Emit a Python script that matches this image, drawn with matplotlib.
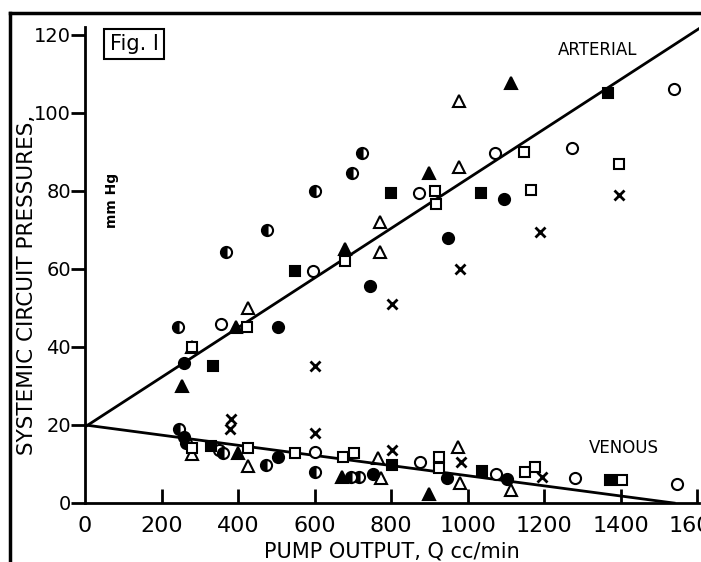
import matplotlib
matplotlib.use("Agg")
import matplotlib.pyplot as plt
from matplotlib.lines import Line2D
import numpy as np

# pump output Q (cc/min) and pressure (mm Hg) per symbol, arterial + venous
open_circle_q = [355, 597, 874, 1071, 1274, 1540, 350, 600, 876, 1074, 1281, 1548]
open_circle_p = [46, 59.5, 79.5, 89.7, 91, 106, 13.6, 13, 10.5, 7.4, 6.4, 4.9]

half_circle_q = [242, 368, 476, 600, 697, 724, 245, 265, 360, 474, 600, 695, 716]
half_circle_p = [45, 64.4, 70, 80, 84.6, 89.7, 19, 15.5, 12.8, 9.7, 8, 6.7, 6.7]

filled_circle_q = [260, 505, 745, 950, 1095, 260, 505, 752, 945, 1103]
filled_circle_p = [36, 45, 55.5, 68, 78, 17, 11.8, 7.4, 6.4, 6.2]

filled_tri_q = [253, 395, 680, 900, 1113, 400, 671, 900]
filled_tri_p = [30, 45, 65, 84.6, 107.7, 12.8, 6.7, 2.3]

open_tri_q = [280, 426, 770, 770, 977, 977, 280, 426, 766, 774, 976, 981, 1113]
open_tri_p = [40, 50, 64.4, 72, 86, 103, 12.5, 9.5, 11.5, 6.4, 14.4, 5.1, 3.3]

open_sq_q = [280, 424, 680, 916, 918, 1147, 1166, 1395,
             281, 426, 548, 674, 703, 926, 926, 1150, 1177, 1403]
open_sq_p = [40, 45, 62, 80, 76.7, 90, 80.3, 87,
             14, 14, 12.8, 11.8, 12.8, 11.8, 9, 8, 9.2, 5.9]

filled_sq_q = [335, 550, 800, 1034, 1368, 330, 803, 1039, 1373]
filled_sq_p = [35, 59.5, 79.5, 79.5, 105, 14.5, 9.7, 8.2, 5.9]

cross_q = [600, 803, 979, 1189, 1395, 381, 379, 600, 803, 984, 1195]
cross_p = [35, 51, 60, 69.5, 79, 21.5, 19, 18, 13.6, 10.5, 6.7]

# fitted lines: (intercept, slope, end of Q)
arterial_fit = (19.5, 0.0636, 1620)
venous_fit = (20.0, -0.013, 1540)

x_ticks = [0, 200, 400, 600, 800, 1000, 1200, 1400, 1600]
y_ticks = [0, 20, 40, 60, 80, 100, 120]

W, H = 701, 562
fig = plt.figure(figsize=(W / 100, H / 100), dpi=100)
ax = fig.add_axes([85 / W, 59 / H, 614 / W, 476 / H])
ax.set_xlim(0, 1605)
ax.set_ylim(0, 122)

ms = 8
common = dict(linestyle="none", markeredgecolor="black", markeredgewidth=1.5,
              clip_on=False, zorder=3)
ax.plot(open_circle_q, open_circle_p, marker="o", markersize=ms,
        markerfacecolor="white", **common)
ax.plot(half_circle_q, half_circle_p, marker="o", markersize=ms, fillstyle="left",
        markerfacecolor="black", markerfacecoloralt="white", **common)
ax.plot(filled_circle_q, filled_circle_p, marker="o", markersize=ms,
        markerfacecolor="black", **common)
ax.plot(filled_tri_q, filled_tri_p, marker="^", markersize=ms + 1,
        markerfacecolor="black", **common)
ax.plot(open_tri_q, open_tri_p, marker="^", markersize=ms + 1,
        markerfacecolor="none", **common)
ax.plot(open_sq_q, open_sq_p, marker="s", markersize=ms - 1,
        markerfacecolor="white", **common)
ax.plot(filled_sq_q, filled_sq_p, marker="s", markersize=ms - 1,
        markerfacecolor="black", **common)
ax.plot(cross_q, cross_p, marker="x", markersize=ms - 1, markeredgewidth=2,
        color="black", linestyle="none", zorder=3)

for b0, b1, qmax in (arterial_fit, venous_fit):
    q = np.array([0, qmax])
    ax.plot(q, b0 + b1 * q, color="black", linewidth=2, zorder=2)

ax.spines["top"].set_visible(False)
ax.spines["right"].set_visible(False)
for s in ("left", "bottom"):
    ax.spines[s].set_linewidth(2)

ax.set_xticks(x_ticks)
ax.set_xticklabels([str(t) for t in x_ticks], fontsize=16)
ax.set_yticks(y_ticks)
ax.set_yticklabels([str(t) for t in y_ticks], fontsize=14)
ax.tick_params(axis="x", direction="in", length=10, width=2, pad=9)
ax.tick_params(axis="y", direction="out", length=10, width=2, pad=0)
ax.xaxis.get_major_ticks()[0].tick1line.set_visible(False)

ax.text(1340, 116, "ARTERIAL", fontsize=12, ha="center", va="center")
ax.text(1408, 14, "VENOUS", fontsize=12, ha="center", va="center")
ax.text(0.04, 0.985, "Fig. I", transform=ax.transAxes, fontsize=15,
        ha="left", va="top",
        bbox=dict(boxstyle="square,pad=0.25", facecolor="white",
                  edgecolor="black", linewidth=1.5))

fig.text(27 / W, 1 - 285 / H, "SYSTEMIC CIRCUIT PRESSURES,", rotation=90,
         fontsize=15.5, ha="center", va="center")
fig.text(112 / W, 1 - 200 / H, "mm Hg", rotation=90, fontsize=10,
         fontweight="bold", ha="center", va="center")
fig.text(392 / W, 1 - 552 / H, "PUMP OUTPUT, Q cc/min", fontsize=15,
         ha="center", va="center")

# scanned page frame
fig.add_artist(Line2D([10 / W, 1], [1 - 13 / H, 1 - 13 / H], color="black", linewidth=2.5))
fig.add_artist(Line2D([10 / W, 10 / W], [0, 1 - 13 / H], color="black", linewidth=2.5))

fig.savefig("out.png", dpi=100)
